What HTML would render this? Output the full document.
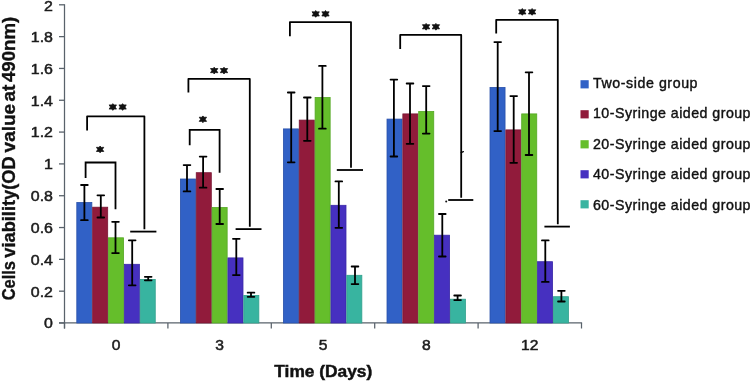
<!DOCTYPE html>
<html><head><meta charset="utf-8"><style>
html,body{margin:0;padding:0;background:#fff;width:750px;height:382px;overflow:hidden}
svg{display:block;will-change:transform}
text{font-family:"Liberation Sans",sans-serif}
</style></head><body>
<svg width="750" height="382" viewBox="0 0 750 382">

<line x1="64.5" y1="4.2" x2="64.5" y2="328.5" stroke="#59626b" stroke-width="1.25"/>
<line x1="59" y1="323.00" x2="64.5" y2="323.00" stroke="#59626b" stroke-width="1.3"/>
<text transform="translate(53 328.40) scale(1.1 1)" text-anchor="end" font-size="14.5" fill="#1c1c1c" stroke="#1c1c1c" stroke-width="0.5">0</text>
<line x1="59" y1="291.18" x2="64.5" y2="291.18" stroke="#59626b" stroke-width="1.3"/>
<text transform="translate(53 296.58) scale(1.1 1)" text-anchor="end" font-size="14.5" fill="#1c1c1c" stroke="#1c1c1c" stroke-width="0.5">0.2</text>
<line x1="59" y1="259.36" x2="64.5" y2="259.36" stroke="#59626b" stroke-width="1.3"/>
<text transform="translate(53 264.76) scale(1.1 1)" text-anchor="end" font-size="14.5" fill="#1c1c1c" stroke="#1c1c1c" stroke-width="0.5">0.4</text>
<line x1="59" y1="227.54" x2="64.5" y2="227.54" stroke="#59626b" stroke-width="1.3"/>
<text transform="translate(53 232.94) scale(1.1 1)" text-anchor="end" font-size="14.5" fill="#1c1c1c" stroke="#1c1c1c" stroke-width="0.5">0.6</text>
<line x1="59" y1="195.72" x2="64.5" y2="195.72" stroke="#59626b" stroke-width="1.3"/>
<text transform="translate(53 201.12) scale(1.1 1)" text-anchor="end" font-size="14.5" fill="#1c1c1c" stroke="#1c1c1c" stroke-width="0.5">0.8</text>
<line x1="59" y1="163.90" x2="64.5" y2="163.90" stroke="#59626b" stroke-width="1.3"/>
<text transform="translate(53 169.30) scale(1.1 1)" text-anchor="end" font-size="14.5" fill="#1c1c1c" stroke="#1c1c1c" stroke-width="0.5">1</text>
<line x1="59" y1="132.08" x2="64.5" y2="132.08" stroke="#59626b" stroke-width="1.3"/>
<text transform="translate(53 137.48) scale(1.1 1)" text-anchor="end" font-size="14.5" fill="#1c1c1c" stroke="#1c1c1c" stroke-width="0.5">1.2</text>
<line x1="59" y1="100.26" x2="64.5" y2="100.26" stroke="#59626b" stroke-width="1.3"/>
<text transform="translate(53 105.66) scale(1.1 1)" text-anchor="end" font-size="14.5" fill="#1c1c1c" stroke="#1c1c1c" stroke-width="0.5">1.4</text>
<line x1="59" y1="68.44" x2="64.5" y2="68.44" stroke="#59626b" stroke-width="1.3"/>
<text transform="translate(53 73.84) scale(1.1 1)" text-anchor="end" font-size="14.5" fill="#1c1c1c" stroke="#1c1c1c" stroke-width="0.5">1.6</text>
<line x1="59" y1="36.62" x2="64.5" y2="36.62" stroke="#59626b" stroke-width="1.3"/>
<text transform="translate(53 42.02) scale(1.1 1)" text-anchor="end" font-size="14.5" fill="#1c1c1c" stroke="#1c1c1c" stroke-width="0.5">1.8</text>
<line x1="59" y1="4.80" x2="64.5" y2="4.80" stroke="#59626b" stroke-width="1.3"/>
<text transform="translate(53 10.90) scale(1.1 1)" text-anchor="end" font-size="14.5" fill="#1c1c1c" stroke="#1c1c1c" stroke-width="0.5">2</text>
<line x1="59" y1="322.90" x2="582.1" y2="322.90" stroke="#59626b" stroke-width="1.4"/>
<line x1="64.50" y1="323.0" x2="64.50" y2="328.5" stroke="#59626b" stroke-width="1.25"/>
<line x1="167.90" y1="323.0" x2="167.90" y2="328.5" stroke="#59626b" stroke-width="1.25"/>
<line x1="271.30" y1="323.0" x2="271.30" y2="328.5" stroke="#59626b" stroke-width="1.25"/>
<line x1="374.70" y1="323.0" x2="374.70" y2="328.5" stroke="#59626b" stroke-width="1.25"/>
<line x1="478.10" y1="323.0" x2="478.10" y2="328.5" stroke="#59626b" stroke-width="1.25"/>
<line x1="581.50" y1="323.0" x2="581.50" y2="328.5" stroke="#59626b" stroke-width="1.25"/>
<text transform="translate(116.20 350.2) scale(1.1 1)" text-anchor="middle" font-size="14.2" fill="#1c1c1c" stroke="#1c1c1c" stroke-width="0.5">0</text>
<text transform="translate(219.60 350.2) scale(1.1 1)" text-anchor="middle" font-size="14.2" fill="#1c1c1c" stroke="#1c1c1c" stroke-width="0.5">3</text>
<text transform="translate(323.00 350.2) scale(1.1 1)" text-anchor="middle" font-size="14.2" fill="#1c1c1c" stroke="#1c1c1c" stroke-width="0.5">5</text>
<text transform="translate(426.40 350.2) scale(1.1 1)" text-anchor="middle" font-size="14.2" fill="#1c1c1c" stroke="#1c1c1c" stroke-width="0.5">8</text>
<text transform="translate(529.80 350.2) scale(1.1 1)" text-anchor="middle" font-size="14.2" fill="#1c1c1c" stroke="#1c1c1c" stroke-width="0.5">12</text>
<rect x="76.80" y="202.50" width="15.05" height="120.50" fill="#3161c6" stroke="#2a52ab" stroke-width="0.8"/>
<rect x="92.65" y="207.20" width="15.05" height="115.80" fill="#911b3b" stroke="#791533" stroke-width="0.8"/>
<rect x="108.50" y="237.80" width="15.05" height="85.20" fill="#65be2b" stroke="#55a824" stroke-width="0.8"/>
<rect x="124.35" y="264.30" width="15.05" height="58.70" fill="#4630c0" stroke="#3a28a8" stroke-width="0.8"/>
<rect x="140.20" y="279.40" width="15.05" height="43.60" fill="#38b4a0" stroke="#30a08c" stroke-width="0.8"/>
<rect x="180.40" y="179.00" width="15.05" height="144.00" fill="#3161c6" stroke="#2a52ab" stroke-width="0.8"/>
<rect x="196.25" y="172.70" width="15.05" height="150.30" fill="#911b3b" stroke="#791533" stroke-width="0.8"/>
<rect x="212.10" y="207.50" width="15.05" height="115.50" fill="#65be2b" stroke="#55a824" stroke-width="0.8"/>
<rect x="227.95" y="257.90" width="15.05" height="65.10" fill="#4630c0" stroke="#3a28a8" stroke-width="0.8"/>
<rect x="243.80" y="295.50" width="15.05" height="27.50" fill="#38b4a0" stroke="#30a08c" stroke-width="0.8"/>
<rect x="283.40" y="128.90" width="15.05" height="194.10" fill="#3161c6" stroke="#2a52ab" stroke-width="0.8"/>
<rect x="299.25" y="120.10" width="15.05" height="202.90" fill="#911b3b" stroke="#791533" stroke-width="0.8"/>
<rect x="315.10" y="97.50" width="15.05" height="225.50" fill="#65be2b" stroke="#55a824" stroke-width="0.8"/>
<rect x="330.95" y="205.30" width="15.05" height="117.70" fill="#4630c0" stroke="#3a28a8" stroke-width="0.8"/>
<rect x="346.80" y="275.30" width="15.05" height="47.70" fill="#38b4a0" stroke="#30a08c" stroke-width="0.8"/>
<rect x="387.00" y="119.10" width="15.05" height="203.90" fill="#3161c6" stroke="#2a52ab" stroke-width="0.8"/>
<rect x="402.85" y="113.90" width="15.05" height="209.10" fill="#911b3b" stroke="#791533" stroke-width="0.8"/>
<rect x="418.70" y="111.50" width="15.05" height="211.50" fill="#65be2b" stroke="#55a824" stroke-width="0.8"/>
<rect x="434.55" y="235.20" width="15.05" height="87.80" fill="#4630c0" stroke="#3a28a8" stroke-width="0.8"/>
<rect x="450.40" y="299.20" width="15.05" height="23.80" fill="#38b4a0" stroke="#30a08c" stroke-width="0.8"/>
<rect x="490.00" y="87.40" width="15.05" height="235.60" fill="#3161c6" stroke="#2a52ab" stroke-width="0.8"/>
<rect x="505.85" y="129.90" width="15.05" height="193.10" fill="#911b3b" stroke="#791533" stroke-width="0.8"/>
<rect x="521.70" y="113.90" width="15.05" height="209.10" fill="#65be2b" stroke="#55a824" stroke-width="0.8"/>
<rect x="537.55" y="261.70" width="15.05" height="61.30" fill="#4630c0" stroke="#3a28a8" stroke-width="0.8"/>
<rect x="553.40" y="296.70" width="15.05" height="26.30" fill="#38b4a0" stroke="#30a08c" stroke-width="0.8"/>
<path d="M84.40 185.00V220.20M81.05 185.00H87.75M81.05 220.20H87.75" stroke="#000" stroke-width="1.8" fill="none" stroke-linecap="round"/>
<path d="M100.80 195.30V217.50M97.45 195.30H104.15M97.45 217.50H104.15" stroke="#000" stroke-width="1.8" fill="none" stroke-linecap="round"/>
<path d="M115.50 221.80V253.10M112.15 221.80H118.85M112.15 253.10H118.85" stroke="#000" stroke-width="1.8" fill="none" stroke-linecap="round"/>
<path d="M132.20 240.30V285.30M128.85 240.30H135.55M128.85 285.30H135.55" stroke="#000" stroke-width="1.8" fill="none" stroke-linecap="round"/>
<path d="M148.20 276.80V280.30M144.85 276.80H151.55M144.85 280.30H151.55" stroke="#000" stroke-width="1.8" fill="none" stroke-linecap="round"/>
<path d="M187.00 165.10V191.40M183.65 165.10H190.35M183.65 191.40H190.35" stroke="#000" stroke-width="1.8" fill="none" stroke-linecap="round"/>
<path d="M203.10 156.60V187.70M199.75 156.60H206.45M199.75 187.70H206.45" stroke="#000" stroke-width="1.8" fill="none" stroke-linecap="round"/>
<path d="M219.70 189.00V224.00M216.35 189.00H223.05M216.35 224.00H223.05" stroke="#000" stroke-width="1.8" fill="none" stroke-linecap="round"/>
<path d="M236.30 238.80V275.10M232.95 238.80H239.65M232.95 275.10H239.65" stroke="#000" stroke-width="1.8" fill="none" stroke-linecap="round"/>
<path d="M251.00 292.70V296.80M247.65 292.70H254.35M247.65 296.80H254.35" stroke="#000" stroke-width="1.8" fill="none" stroke-linecap="round"/>
<path d="M291.20 92.50V162.30M287.85 92.50H294.55M287.85 162.30H294.55" stroke="#000" stroke-width="1.8" fill="none" stroke-linecap="round"/>
<path d="M307.30 97.50V140.80M303.95 97.50H310.65M303.95 140.80H310.65" stroke="#000" stroke-width="1.8" fill="none" stroke-linecap="round"/>
<path d="M322.40 65.90V128.70M319.05 65.90H325.75M319.05 128.70H325.75" stroke="#000" stroke-width="1.8" fill="none" stroke-linecap="round"/>
<path d="M338.80 181.40V227.80M335.45 181.40H342.15M335.45 227.80H342.15" stroke="#000" stroke-width="1.8" fill="none" stroke-linecap="round"/>
<path d="M355.00 266.50V284.10M351.65 266.50H358.35M351.65 284.10H358.35" stroke="#000" stroke-width="1.8" fill="none" stroke-linecap="round"/>
<path d="M393.90 79.60V156.50M390.55 79.60H397.25M390.55 156.50H397.25" stroke="#000" stroke-width="1.8" fill="none" stroke-linecap="round"/>
<path d="M410.00 83.50V143.80M406.65 83.50H413.35M406.65 143.80H413.35" stroke="#000" stroke-width="1.8" fill="none" stroke-linecap="round"/>
<path d="M426.20 86.10V133.60M422.85 86.10H429.55M422.85 133.60H429.55" stroke="#000" stroke-width="1.8" fill="none" stroke-linecap="round"/>
<path d="M442.30 214.00V256.50M438.95 214.00H445.65M438.95 256.50H445.65" stroke="#000" stroke-width="1.8" fill="none" stroke-linecap="round"/>
<path d="M457.60 295.50V300.10M454.25 295.50H460.95M454.25 300.10H460.95" stroke="#000" stroke-width="1.8" fill="none" stroke-linecap="round"/>
<path d="M497.70 42.10V131.10M494.35 42.10H501.05M494.35 131.10H501.05" stroke="#000" stroke-width="1.8" fill="none" stroke-linecap="round"/>
<path d="M513.70 96.10V162.80M510.35 96.10H517.05M510.35 162.80H517.05" stroke="#000" stroke-width="1.8" fill="none" stroke-linecap="round"/>
<path d="M529.00 72.30V155.00M525.65 72.30H532.35M525.65 155.00H532.35" stroke="#000" stroke-width="1.8" fill="none" stroke-linecap="round"/>
<path d="M545.30 240.40V281.90M541.95 240.40H548.65M541.95 281.90H548.65" stroke="#000" stroke-width="1.8" fill="none" stroke-linecap="round"/>
<path d="M561.40 290.80V301.50M558.05 290.80H564.75M558.05 301.50H564.75" stroke="#000" stroke-width="1.8" fill="none" stroke-linecap="round"/>
<path d="M87.1 130.6V116.3H144.4V229.30" stroke="#000" stroke-width="1.8" fill="none" stroke-linejoin="round"/>
<path d="M130.2 231.6H156.4" stroke="#000" stroke-width="1.8"/>
<path d="M188.4 92.5V78.9H249.8V226.80" stroke="#000" stroke-width="1.8" fill="none" stroke-linejoin="round"/>
<path d="M235.6 229.1H261.5" stroke="#000" stroke-width="1.8"/>
<path d="M289.9 36.3V22.1H351.0V167.70" stroke="#000" stroke-width="1.8" fill="none" stroke-linejoin="round"/>
<path d="M336.8 170.0H363.0" stroke="#000" stroke-width="1.8"/>
<path d="M400.2 49.0V34.9H461.2V197.70" stroke="#000" stroke-width="1.8" fill="none" stroke-linejoin="round"/>
<path d="M448.2 200.0H473.3" stroke="#000" stroke-width="1.8"/>
<path d="M496.2 33.5V19.8H557.8V224.30" stroke="#000" stroke-width="1.8" fill="none" stroke-linejoin="round"/>
<path d="M544.4 226.6H569.9" stroke="#000" stroke-width="1.8"/>
<path d="M461.1 152.6 L463.4 151.6" stroke="#000" stroke-width="1.2" stroke-linecap="round"/>
<circle cx="446.2" cy="201.4" r="1.0" fill="#111"/>
<path d="M85.6 177.9V162.5H115.5V209.3" stroke="#000" stroke-width="1.8" fill="none"/>
<path d="M189.7 145.3V129.9H219.6V172.7" stroke="#000" stroke-width="1.8" fill="none"/>
<polygon points="112.80,103.65 113.95,105.01 116.44,104.90 115.10,107.00 116.44,109.10 113.95,108.99 112.80,110.35 111.65,108.99 109.16,109.10 110.50,107.00 109.16,104.90 111.65,105.01" fill="#111" stroke="#111" stroke-width="0.8" stroke-linejoin="round"/>
<polygon points="122.60,103.65 123.75,105.01 126.24,104.90 124.90,107.00 126.24,109.10 123.75,108.99 122.60,110.35 121.45,108.99 118.96,109.10 120.30,107.00 118.96,104.90 121.45,105.01" fill="#111" stroke="#111" stroke-width="0.8" stroke-linejoin="round"/>
<polygon points="214.20,67.25 215.35,68.61 217.84,68.50 216.50,70.60 217.84,72.70 215.35,72.59 214.20,73.95 213.05,72.59 210.56,72.70 211.90,70.60 210.56,68.50 213.05,68.61" fill="#111" stroke="#111" stroke-width="0.8" stroke-linejoin="round"/>
<polygon points="224.00,67.25 225.15,68.61 227.64,68.50 226.30,70.60 227.64,72.70 225.15,72.59 224.00,73.95 222.85,72.59 220.36,72.70 221.70,70.60 220.36,68.50 222.85,68.61" fill="#111" stroke="#111" stroke-width="0.8" stroke-linejoin="round"/>
<polygon points="315.70,10.55 316.85,11.91 319.34,11.80 318.00,13.90 319.34,16.00 316.85,15.89 315.70,17.25 314.55,15.89 312.06,16.00 313.40,13.90 312.06,11.80 314.55,11.91" fill="#111" stroke="#111" stroke-width="0.8" stroke-linejoin="round"/>
<polygon points="325.50,10.55 326.65,11.91 329.14,11.80 327.80,13.90 329.14,16.00 326.65,15.89 325.50,17.25 324.35,15.89 321.86,16.00 323.20,13.90 321.86,11.80 324.35,11.91" fill="#111" stroke="#111" stroke-width="0.8" stroke-linejoin="round"/>
<polygon points="426.10,23.45 427.25,24.81 429.74,24.70 428.40,26.80 429.74,28.90 427.25,28.79 426.10,30.15 424.95,28.79 422.46,28.90 423.80,26.80 422.46,24.70 424.95,24.81" fill="#111" stroke="#111" stroke-width="0.8" stroke-linejoin="round"/>
<polygon points="435.90,23.45 437.05,24.81 439.54,24.70 438.20,26.80 439.54,28.90 437.05,28.79 435.90,30.15 434.75,28.79 432.26,28.90 433.60,26.80 432.26,24.70 434.75,24.81" fill="#111" stroke="#111" stroke-width="0.8" stroke-linejoin="round"/>
<polygon points="522.30,8.55 523.45,9.91 525.94,9.80 524.60,11.90 525.94,14.00 523.45,13.89 522.30,15.25 521.15,13.89 518.66,14.00 520.00,11.90 518.66,9.80 521.15,9.91" fill="#111" stroke="#111" stroke-width="0.8" stroke-linejoin="round"/>
<polygon points="532.10,8.55 533.25,9.91 535.74,9.80 534.40,11.90 535.74,14.00 533.25,13.89 532.10,15.25 530.95,13.89 528.46,14.00 529.80,11.90 528.46,9.80 530.95,9.91" fill="#111" stroke="#111" stroke-width="0.8" stroke-linejoin="round"/>
<polygon points="100.10,146.05 101.25,147.41 103.74,147.30 102.40,149.40 103.74,151.50 101.25,151.39 100.10,152.75 98.95,151.39 96.46,151.50 97.80,149.40 96.46,147.30 98.95,147.41" fill="#111" stroke="#111" stroke-width="0.8" stroke-linejoin="round"/>
<polygon points="202.90,115.95 204.05,117.31 206.54,117.20 205.20,119.30 206.54,121.40 204.05,121.29 202.90,122.65 201.75,121.29 199.26,121.40 200.60,119.30 199.26,117.20 201.75,117.31" fill="#111" stroke="#111" stroke-width="0.8" stroke-linejoin="round"/>
<rect x="580.5" y="80.20" width="8.2" height="8.2" fill="#3161c6"/>
<text x="593" y="88.00" font-size="14.2" fill="#111" stroke="#111" stroke-width="0.4" textLength="104.5" lengthAdjust="spacing">Two-side group</text>
<rect x="580.5" y="110.20" width="8.2" height="8.2" fill="#911b3b"/>
<text x="593" y="118.45" font-size="14.2" fill="#111" stroke="#111" stroke-width="0.4" textLength="157.5" lengthAdjust="spacing">10-Syringe aided group</text>
<rect x="580.5" y="140.20" width="8.2" height="8.2" fill="#65be2b"/>
<text x="593" y="148.90" font-size="14.2" fill="#111" stroke="#111" stroke-width="0.4" textLength="157.5" lengthAdjust="spacing">20-Syringe aided group</text>
<rect x="580.5" y="170.20" width="8.2" height="8.2" fill="#4630c0"/>
<text x="593" y="179.35" font-size="14.2" fill="#111" stroke="#111" stroke-width="0.4" textLength="157.5" lengthAdjust="spacing">40-Syringe aided group</text>
<rect x="580.5" y="200.20" width="8.2" height="8.2" fill="#38b4a0"/>
<text x="593" y="209.80" font-size="14.2" fill="#111" stroke="#111" stroke-width="0.4" textLength="157.5" lengthAdjust="spacing">60-Syringe aided group</text>
<text x="0" y="0" transform="translate(14.9 300.30) rotate(-90)" font-size="17.6" font-weight="bold" fill="#111" stroke="#111" stroke-width="0.35" textLength="39.30" lengthAdjust="spacingAndGlyphs">Cells</text>
<text x="0" y="0" transform="translate(14.9 257.70) rotate(-90)" font-size="17.6" font-weight="bold" fill="#111" stroke="#111" stroke-width="0.35" textLength="101.30" lengthAdjust="spacingAndGlyphs">viability(OD</text>
<text x="0" y="0" transform="translate(14.9 152.40) rotate(-90)" font-size="17.6" font-weight="bold" fill="#111" stroke="#111" stroke-width="0.35" textLength="48.50" lengthAdjust="spacingAndGlyphs">value</text>
<text x="0" y="0" transform="translate(14.9 101.50) rotate(-90)" font-size="17.6" font-weight="bold" fill="#111" stroke="#111" stroke-width="0.35" textLength="17.00" lengthAdjust="spacingAndGlyphs">at</text>
<text x="0" y="0" transform="translate(14.9 82.00) rotate(-90)" font-size="17.6" font-weight="bold" fill="#111" stroke="#111" stroke-width="0.35" textLength="65.30" lengthAdjust="spacingAndGlyphs">490nm)</text>
<text x="274.3" y="376.8" font-size="16.6" font-weight="bold" fill="#111" stroke="#111" stroke-width="0.45" textLength="98" lengthAdjust="spacingAndGlyphs">Time (Days)</text>
</svg></body></html>
